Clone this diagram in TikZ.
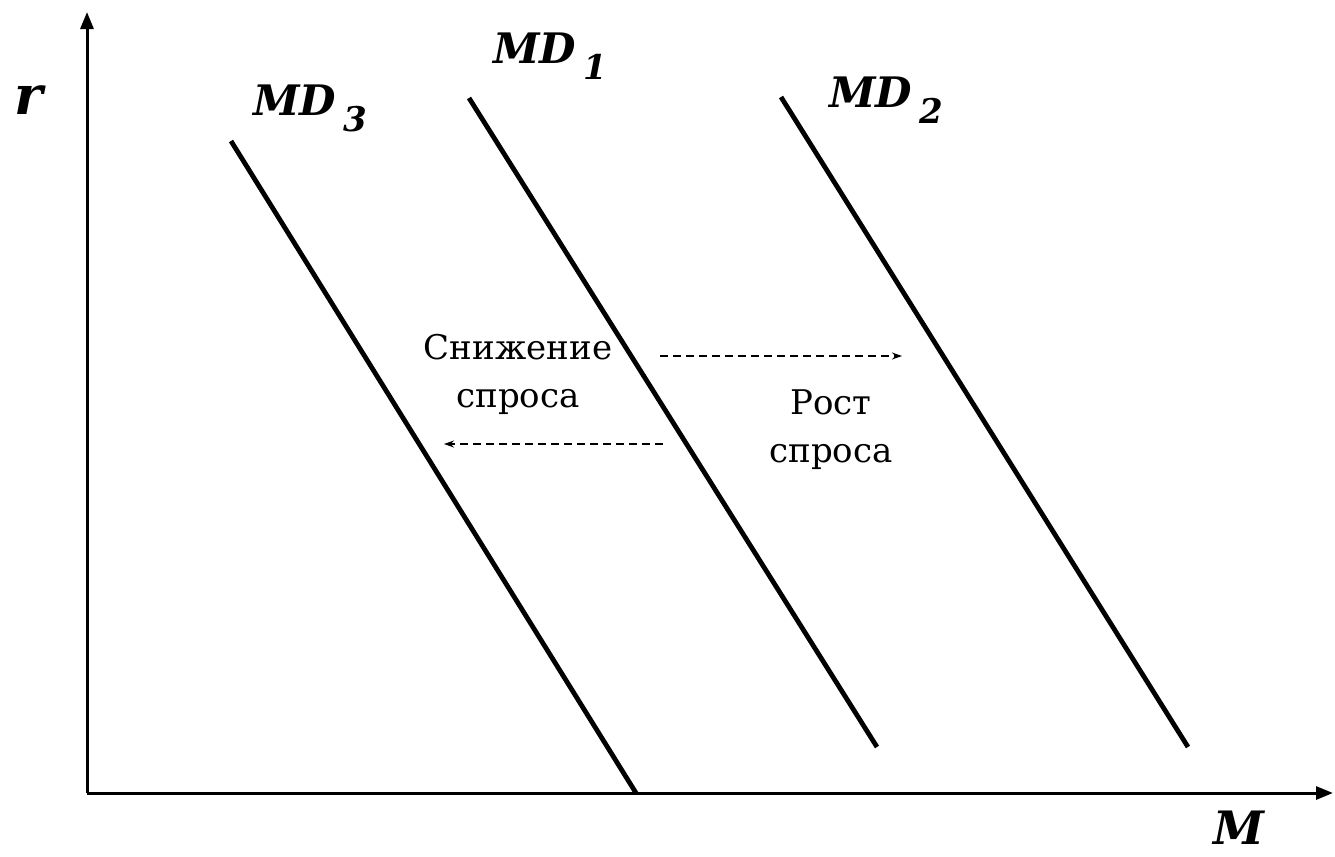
\documentclass[tikz,border=0pt]{standalone}
\usepackage{fontspec}
\setmainfont{DejaVu Serif}
\usetikzlibrary{arrows.meta}
\newcommand{\mdlabel}[1]{\fontsize{21}{26}\selectfont\bfseries\itshape MD\,\raisebox{-8pt}{\fontsize{17}{20}\selectfont #1}}

\begin{document}
\begin{tikzpicture}[x=0.5pt,y=-0.5pt,
	axis/.style={line width=1.5pt,-{Triangle[length=8.5pt,width=6.5pt]}},
	curve/.style={line width=2.4pt},
	shiftarrow/.style={line width=0.75pt,dash pattern=on 4pt off 2.5pt,-{Stealth[length=5pt,width=3.5pt]}},
	lbl/.style={font=\fontsize{17}{24}\selectfont,align=center,inner sep=0pt}]
		\useasboundingbox (0,0) rectangle (1335,857);
		% axes
		\coordinate (O) at (87,793);
		\coordinate (ytop) at (87,12);
		\coordinate (xend) at (1333,793);
		\draw[axis] (O) -- (ytop);
		\draw[axis] (O) -- (xend);
		\node[font=\fontsize{27}{32}\selectfont\bfseries\itshape,inner sep=0pt] (rlab) at (29,100) {r};
		\node[font=\fontsize{23}{30}\selectfont\bfseries\itshape,inner sep=0pt] (mlab) at (1239,828) {M};
		% demand curves
		\coordinate (md3a) at (231,141);
		\coordinate (md3b) at (636,793);
		\coordinate (md1a) at (469,98);
		\coordinate (md1b) at (877,747);
		\coordinate (md2a) at (781,97);
		\coordinate (md2b) at (1188,747);
		\draw[curve] (md3a) -- (md3b);
		\draw[curve] (md1a) -- (md1b);
		\draw[curve] (md2a) -- (md2b);
		\node[anchor=base west,inner sep=0pt] (md3lab) at (253,115) {\mdlabel{3}};
		\node[anchor=base west,inner sep=0pt] (md1lab) at (493,63) {\mdlabel{1}};
		\node[anchor=base west,inner sep=0pt] (md2lab) at (829,107) {\mdlabel{2}};
		% shifts
		\node[lbl] (down) at (518,374) {Снижение\\спроса};
		\node[lbl] (up) at (831,430) {Рост\\спроса};
		\coordinate (upa) at (660,356);
		\coordinate (upb) at (902,356);
		\coordinate (downa) at (663,444);
		\coordinate (downb) at (444,444);
		\draw[shiftarrow] (upa) -- (upb);
		\draw[shiftarrow] (downa) -- (downb);
\end{tikzpicture}
\end{document}
